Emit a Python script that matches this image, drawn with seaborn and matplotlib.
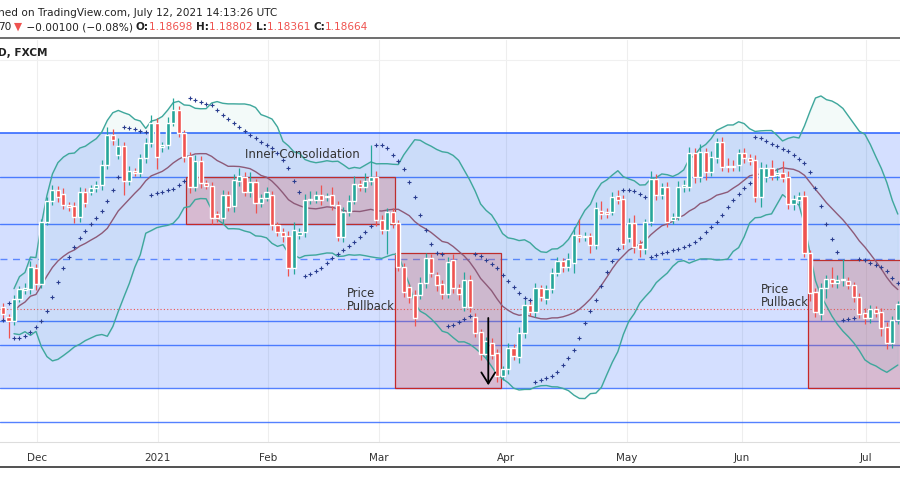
import numpy as np
import pandas as pd
import seaborn as sns
import matplotlib.pyplot as plt
from matplotlib.patches import Rectangle

# EURUSD daily candles (Nov 2020 - Jul 2021)
opens = [1.1913, 1.1888, 1.1878, 1.1933, 1.1955, 1.1958, 1.2010, 1.1970, 1.2125, 1.2178,
         1.2205, 1.2195, 1.2168, 1.2165, 1.2138, 1.2200, 1.2200, 1.2210, 1.2218, 1.2268,
         1.2343, 1.2293, 1.2315, 1.2228, 1.2253, 1.2248, 1.2285, 1.2323, 1.2373, 1.2313,
         1.2318, 1.2373, 1.2405, 1.2348, 1.2290, 1.2213, 1.2278, 1.2223, 1.2215, 1.2145,
         1.2135, 1.2193, 1.2165, 1.2228, 1.2238, 1.2200, 1.2225, 1.2173, 1.2185, 1.2193,
         1.2118, 1.2100, 1.2090, 1.2010, 1.2093, 1.2100, 1.2180, 1.2180, 1.2193, 1.2188,
         1.2193, 1.2168, 1.2088, 1.2150, 1.2178, 1.2220, 1.2213, 1.2228, 1.2238, 1.2130,
         1.2105, 1.2150, 1.2123, 1.2013, 1.1963, 1.1943, 1.1943, 1.1973, 1.2035, 1.1993,
         1.1970, 1.1945, 1.2030, 1.1960, 1.1913, 1.1980, 1.1888, 1.1850, 1.1795, 1.1823,
         1.1798, 1.1740, 1.1758, 1.1810, 1.1788, 1.1848, 1.1918, 1.1900, 1.1960, 1.1933,
         1.1958, 1.1998, 1.2028, 1.2013, 1.2023, 1.2093, 1.2088, 1.2090, 1.2068, 1.2153,
         1.2150, 1.2150, 1.2190, 1.2183, 1.2085, 1.2123, 1.2070, 1.2058, 1.2125, 1.2233,
         1.2193, 1.2213, 1.2130, 1.2138, 1.2213, 1.2213, 1.2298, 1.2238, 1.2300, 1.2250,
         1.2285, 1.2325, 1.2264, 1.2265, 1.2268, 1.2298, 1.2285, 1.2280, 1.2188, 1.2238,
         1.2260, 1.2243, 1.2248, 1.2238, 1.2170, 1.2180, 1.2190, 1.2048, 1.1950, 1.1895,
         1.1960, 1.1983, 1.1973, 1.1980, 1.1978, 1.1968, 1.1938, 1.1898, 1.1885, 1.1908,
         1.1900, 1.1863, 1.1823, 1.1880]
closes = [1.1895, 1.1878, 1.1933, 1.1958, 1.1960, 1.2013, 1.1970, 1.2125, 1.2178, 1.2205,
          1.2188, 1.2168, 1.2163, 1.2138, 1.2200, 1.2173, 1.2210, 1.2218, 1.2268, 1.2343,
          1.2330, 1.2315, 1.2228, 1.2253, 1.2248, 1.2285, 1.2323, 1.2373, 1.2288, 1.2318,
          1.2373, 1.2405, 1.2348, 1.2288, 1.2213, 1.2278, 1.2223, 1.2215, 1.2135, 1.2135,
          1.2193, 1.2163, 1.2230, 1.2240, 1.2200, 1.2225, 1.2173, 1.2185, 1.2200, 1.2118,
          1.2100, 1.2090, 1.2010, 1.2105, 1.2100, 1.2180, 1.2183, 1.2193, 1.2180, 1.2190,
          1.2168, 1.2088, 1.2150, 1.2178, 1.2220, 1.2213, 1.2228, 1.2238, 1.2130, 1.2105,
          1.2150, 1.2123, 1.2013, 1.1950, 1.1938, 1.1885, 1.1973, 1.2035, 1.1998, 1.1968,
          1.1945, 1.2025, 1.1960, 1.1945, 1.1980, 1.1913, 1.1848, 1.1795, 1.1828, 1.1793,
          1.1740, 1.1758, 1.1810, 1.1790, 1.1848, 1.1918, 1.1900, 1.1960, 1.1938, 1.1958,
          1.1998, 1.2028, 1.2013, 1.2033, 1.2093, 1.2088, 1.2090, 1.2068, 1.2160, 1.2145,
          1.2145, 1.2188, 1.2180, 1.2070, 1.2123, 1.2063, 1.2058, 1.2125, 1.2233, 1.2193,
          1.2213, 1.2125, 1.2138, 1.2213, 1.2218, 1.2298, 1.2238, 1.2300, 1.2250, 1.2288,
          1.2325, 1.2263, 1.2263, 1.2263, 1.2298, 1.2285, 1.2278, 1.2188, 1.2260, 1.2260,
          1.2240, 1.2248, 1.2235, 1.2170, 1.2183, 1.2190, 1.2048, 1.1948, 1.1900, 1.1960,
          1.1983, 1.1973, 1.1980, 1.1983, 1.1968, 1.1938, 1.1895, 1.1885, 1.1908, 1.1898,
          1.1860, 1.1823, 1.1880, 1.1920]
# upper / lower wick lengths in pips
wick_up = [10, 8, 10, 8, 12, 15, 10, 8, 10, 12, 10, 15, 8, 10, 12, 10, 8, 10, 12, 20,
           15, 20, 10, 12, 8, 10, 12, 20, 12, 8, 15, 30, 10, 8, 10, 15, 12, 8, 10, 8,
           12, 10, 15, 20, 12, 25, 8, 10, 12, 10, 8, 10, 12, 20, 10, 15, 20, 10, 25, 8,
           20, 10, 12, 15, 20, 10, 20, 80, 15, 12, 10, 10, 8, 10, 8, 12, 15, 12, 10, 8,
           10, 12, 15, 10, 20, 12, 10, 8, 10, 12, 10, 8, 12, 10, 15, 12, 10, 12, 8, 10,
           12, 10, 8, 15, 20, 40, 10, 8, 15, 25, 10, 12, 15, 10, 12, 20, 10, 8, 20, 12,
           10, 12, 10, 15, 12, 15, 12, 20, 10, 15, 10, 12, 20, 15, 10, 12, 10, 12, 15, 10,
           20, 12, 30, 15, 10, 10, 12, 8, 10, 12, 10, 30, 12, 50, 10, 8, 10, 12, 10, 8,
           10, 12, 10, 8]
wick_dn = [15, 42, 10, 8, 10, 12, 15, 10, 8, 10, 12, 10, 10, 15, 12, 10, 8, 10, 12, 10,
           12, 10, 35, 10, 8, 10, 12, 10, 30, 12, 10, 8, 10, 12, 15, 10, 12, 8, 15, 10,
           12, 10, 15, 12, 10, 12, 25, 10, 8, 12, 10, 15, 20, 15, 10, 12, 10, 8, 12, 10,
           12, 10, 12, 10, 8, 10, 12, 10, 15, 10, 60, 12, 10, 12, 15, 20, 10, 12, 10, 15,
           12, 10, 12, 15, 10, 12, 10, 15, 12, 10, 15, 10, 12, 10, 15, 12, 10, 12, 10, 12,
           10, 8, 12, 10, 25, 12, 10, 20, 10, 12, 10, 8, 10, 12, 10, 15, 20, 12, 10, 12,
           10, 12, 10, 8, 12, 10, 15, 12, 20, 10, 12, 10, 12, 10, 15, 12, 10, 12, 25, 12,
           10, 12, 10, 12, 15, 12, 10, 20, 12, 15, 25, 10, 12, 15, 10, 12, 10, 15, 12, 10,
           20, 15, 12, 10]

month_ticks = [6.2, 28.2, 48.3, 68.5, 91.6, 113.7, 134.6, 157.2]
month_labels = ["Dec", "2021", "Feb", "Mar", "Apr", "May", "Jun", "Jul"]

levels_solid = [1.2348, 1.2238, 1.2120, 1.1878, 1.1818, 1.1710, 1.1625]
level_dashed = 1.2033
last_close_line = 1.1908

df = pd.DataFrame({"open": opens, "close": closes})
df["high"] = df[["open", "close"]].max(axis=1) + np.array(wick_up) * 1e-4
df["low"] = df[["open", "close"]].min(axis=1) - np.array(wick_dn) * 1e-4
df["idx"] = np.arange(len(df))

# Bollinger bands 20, 2
df["mid"] = df["close"].rolling(20, min_periods=3).mean()
std = df["close"].rolling(20, min_periods=3).std()
df["upper"] = df["mid"] + 2 * std
df["lower"] = df["mid"] - 2 * std


def psar(high, low, step=0.02, max_af=0.2):
    n = len(high)
    sar = np.zeros(n)
    up = True
    af = step
    ep = high[0]
    sar[0] = low[0]
    for i in range(1, n):
        sar[i] = sar[i - 1] + af * (ep - sar[i - 1])
        if up:
            sar[i] = min(sar[i], low[i - 1], low[max(i - 2, 0)])
            if low[i] < sar[i]:
                up, sar[i], ep, af = False, ep, low[i], step
            elif high[i] > ep:
                ep, af = high[i], min(af + step, max_af)
        else:
            sar[i] = max(sar[i], high[i - 1], high[max(i - 2, 0)])
            if high[i] > sar[i]:
                up, sar[i], ep, af = True, ep, high[i], step
            elif low[i] < ep:
                ep, af = low[i], min(af + step, max_af)
    return sar


df["sar"] = psar(df["high"].values, df["low"].values)

sns.set_style("white")
fig = plt.figure(figsize=(9, 5), dpi=100)
ax = fig.add_axes([0, 0.116, 1, 0.804])

# level zone
ax.axhspan(levels_solid[5], levels_solid[0], color="#2962ff", alpha=0.2, lw=0, zorder=0)
for lv in levels_solid:
    ax.axhline(lv, color="#2962ff", lw=1.4 if lv == levels_solid[0] else 1, alpha=0.8, zorder=1)
ax.axhline(level_dashed, color="#2962ff", lw=1, ls=(0, (5, 4)), alpha=0.7, zorder=1)
ax.axhline(last_close_line, color="#ef5350", lw=0.8, ls=(0, (1, 2)), zorder=1)

# boxes
n = len(df)
for x0, x1, y0, y1 in [(33.3, 71.4, 1.2120, 1.2238), (71.4, 90.7, 1.1710, 1.2048),
                       (146.6, n + 2, 1.1710, 1.2030)]:
    ax.add_patch(Rectangle((x0, y0), x1 - x0, y1 - y0, facecolor="#e05a5a", alpha=0.28,
                           edgecolor="none", zorder=1.5))
    ax.add_patch(Rectangle((x0, y0), x1 - x0, y1 - y0, facecolor="none",
                           edgecolor="#c62828", lw=0.9, zorder=1.6))

# bands
ax.fill_between(df["idx"], df["lower"], df["upper"], color="#26a69a", alpha=0.05, zorder=2)
sns.lineplot(data=df, x="idx", y="upper", color="#3fa79c", lw=1, ax=ax, zorder=3)
sns.lineplot(data=df, x="idx", y="lower", color="#3fa79c", lw=1, ax=ax, zorder=3)
sns.lineplot(data=df, x="idx", y="mid", color="#8d5a78", lw=1, ax=ax, zorder=3)

# candles
colors = np.where(df["close"] >= df["open"], "#26a69a", "#ef5350")
ax.vlines(df["idx"], df["low"], df["high"], colors=colors, lw=0.9, zorder=4)
ax.bar(df["idx"], (df["close"] - df["open"]).abs().clip(lower=0.00015),
       bottom=df[["open", "close"]].min(axis=1), width=0.75, color=colors, zorder=5)

sns.scatterplot(data=df, x="idx", y="sar", marker="+", s=5, color="#2a3d8f",
                linewidth=0.8, ax=ax, zorder=6)

ax.text(44, 1.2285, "Inner Consolidation", fontsize=8.5, color="#333333", zorder=7)
ax.text(62.6, 1.1905, "Price\nPullback", fontsize=8.3, color="#333333", linespacing=1.0, zorder=7)
ax.text(138, 1.1915, "Price\nPullback", fontsize=8.3, color="#333333", linespacing=1.0, zorder=7)
ax.annotate("", xy=(88.4, 1.1710), xytext=(88.4, 1.1892),
            arrowprops=dict(arrowstyle="->,head_width=0.5,head_length=0.8", color="black", lw=1.3),
            zorder=8)
ax.annotate("", xy=(163.8, 1.1725), xytext=(162.3, 1.1755),
            arrowprops=dict(arrowstyle="-", color="black", lw=1.3), zorder=8)

ax.set_xlim(-0.55, 163.4)
ax.set_ylim(1.1575, 1.2580)
ax.set_xticks(month_ticks)
ax.set_xticklabels(month_labels, fontsize=7.5, color="#333333")
ax.set_yticks([])
ax.set_xlabel("")
ax.set_ylabel("")
for t in month_ticks:
    ax.axvline(t, color="#eeeeee", lw=0.8, zorder=-1)
ax.axhline(1.2530, color="#f0f0f0", lw=0.8, zorder=-1)
for s in ["top", "left", "right"]:
    ax.spines[s].set_visible(False)
ax.spines["bottom"].set_color("#dddddd")
ax.tick_params(axis="x", length=3, color="#cccccc", pad=5)

fs = 7.6
fig.text(-0.002, 0.974, "hed on TradingView.com, July 12, 2021 14:13:26 UTC", fontsize=fs,
         color="#222222", va="center")
fig.text(-0.002, 0.946, "70", fontsize=fs, color="#222222", va="center")
line2 = [("\u25bc", "#ef5350", "normal"), (" \u22120.00100 (\u22120.08%) ", "#222222", "normal"),
         ("O:", "#222222", "bold"), ("1.18698 ", "#ef5350", "normal"),
         ("H:", "#222222", "bold"), ("1.18802 ", "#ef5350", "normal"),
         ("L:", "#222222", "bold"), ("1.18361 ", "#ef5350", "normal"),
         ("C:", "#222222", "bold"), ("1.18664", "#ef5350", "normal")]
fig.canvas.draw()
xpos = 0.016
renderer = fig.canvas.get_renderer()
for txt, col, wt in line2:
    t = fig.text(xpos, 0.946, txt, fontsize=fs, color=col, weight=wt, va="center")
    bb = t.get_window_extent(renderer=renderer)
    xpos += bb.width / fig.bbox.width
fig.add_artist(plt.Line2D([0, 1], [0.924, 0.924], color="#555555", lw=1.2))
fig.text(-0.002, 0.894, "D, FXCM", fontsize=7.6, weight="bold", color="#222222", va="center")
fig.add_artist(plt.Line2D([0, 1], [0.066, 0.066], color="#333333", lw=1.2))

fig.savefig("out.png", dpi=100)
